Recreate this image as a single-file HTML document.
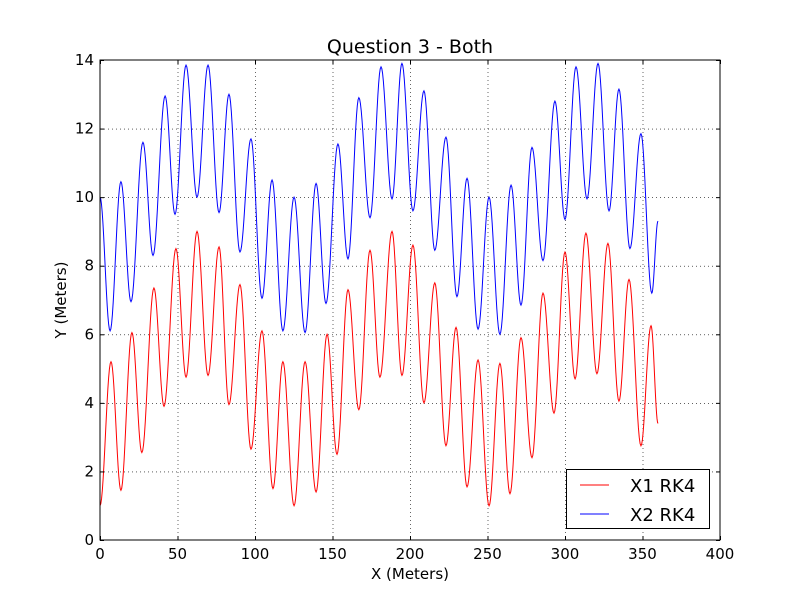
<!DOCTYPE html>
<html><head><meta charset="utf-8"><style>
html,body{margin:0;padding:0;background:#fff;}
svg text{font-family:"DejaVu Sans","Liberation Sans",sans-serif;}
</style></head><body>
<svg id="chart" width="800" height="600" viewBox="0 0 800 600" xmlns="http://www.w3.org/2000/svg">
<rect x="0" y="0" width="800" height="600" fill="#fff"/>
<g id="grid"></g>
<g id="series"></g>
<rect x="100" y="60" width="620" height="480" fill="none" stroke="#000" stroke-width="1"/>
<g id="ticks"></g>
<text x="410" y="53" font-size="19" text-anchor="middle">Question 3 - Both</text>
<text x="410" y="579" font-size="15" text-anchor="middle">X (Meters)</text>
<text x="66" y="300" font-size="15" text-anchor="middle" transform="rotate(-90 66 300)">Y (Meters)</text>
<g>
<rect x="566.5" y="469.5" width="143" height="59" fill="#fff" stroke="#000" stroke-width="1"/>
<line x1="580" y1="485" x2="609" y2="485" stroke="#ff0000" stroke-width="1"/>
<text x="630" y="492" font-size="18">X1 RK4</text>
<line x1="580" y1="514" x2="609" y2="514" stroke="#0000ff" stroke-width="1"/>
<text x="630" y="521" font-size="18">X2 RK4</text>
</g>
</svg>
<script>
const xTicks = [0,50,100,150,200,250,300,350,400];
const yTicks = [0,2,4,6,8,10,12,14];
const x1X = [0,7.1,13.5,20.6,27,34.8,41.3,49,55.5,62.6,69.7,76.8,83.2,90.3,97.4,104.5,111.6,118,125.2,132.3,139.4,146.5,152.9,160,167,174.2,180.6,188.4,194.8,201.9,209,216,223.2,229.7,236.8,243.9,251,258,264.5,271.6,278.7,285.8,292.9,300,306.5,313.5,320.6,327.7,334.8,341.3,349,355.5,360];
const x1Y = [1.0,5.2,1.45,6.05,2.55,7.35,3.9,8.5,4.75,9.0,4.8,8.55,3.95,7.45,2.65,6.1,1.5,5.2,1.0,5.2,1.4,6.0,2.5,7.3,3.8,8.45,4.75,9.0,4.8,8.6,4.0,7.5,2.75,6.2,1.55,5.25,1.0,5.15,1.35,5.9,2.4,7.2,3.7,8.4,4.7,8.95,4.85,8.65,4.05,7.6,2.75,6.25,3.4];
const x2X = [0,6.5,13.5,20,27.7,34.2,42,48.4,55.5,62.6,69.7,76.8,83.2,90.3,97.4,104.5,111,118,125.2,132.3,139.4,145.8,153.5,160,167,174.2,181.3,188.4,194.8,201.9,209,216,223.2,230.3,236.8,243.9,251,258,265.2,271.6,278.7,285.8,293.5,300,307.1,314.2,321.3,328.4,334.8,341.9,349,356,360];
const x2Y = [10.0,6.1,10.45,6.95,11.6,8.3,12.95,9.5,13.85,10.0,13.85,9.55,13.0,8.4,11.7,7.05,10.5,6.1,10.0,6.05,10.4,6.9,11.55,8.2,12.9,9.4,13.8,9.95,13.9,9.6,13.1,8.45,11.75,7.1,10.55,6.15,10.0,6.0,10.35,6.85,11.45,8.15,12.8,9.35,13.8,9.95,13.9,9.6,13.15,8.5,11.85,7.2,9.3];

const NS='http://www.w3.org/2000/svg';
const L=100,R=720,T=60,B=540;
function sx(v){return L+(v-0)/(400-0)*(R-L);}
function sy(v){return B-(v-0)/(14-0)*(B-T);}
function mk(tag,attrs,parent){const e=document.createElementNS(NS,tag);for(const k in attrs)e.setAttribute(k,attrs[k]);parent.appendChild(e);return e;}
const grid=document.getElementById('grid'),ticks=document.getElementById('ticks'),series=document.getElementById('series');
xTicks.forEach(v=>{
  const x=sx(v)+0.5;
  if(v>0&&v<400){const g=mk('line',{x1:x,y1:T,x2:x,y2:B,stroke:'#000','stroke-width':0.6,'stroke-dasharray':'1,3'},grid);
  
  }
  const t1=mk('line',{x1:x,y1:B,x2:x,y2:B-4,stroke:'#000'},ticks);
  
  
  const t2=mk('line',{x1:x,y1:T,x2:x,y2:T+4,stroke:'#000'},ticks);
  
  
  const tx=mk('text',{x:sx(v),y:B+19,'font-size':15,'text-anchor':'middle'},ticks);tx.textContent=v;
  
  
});
yTicks.forEach(v=>{
  const y=sy(v)+0.5;
  if(v>0&&v<14){const g=mk('line',{x1:L,y1:y,x2:R,y2:y,stroke:'#000','stroke-width':0.6,'stroke-dasharray':'1,3'},grid);
  
  }
  const t1=mk('line',{x1:L,y1:y,x2:L+4,y2:y,stroke:'#000'},ticks);
  
  
  const t2=mk('line',{x1:R,y1:y,x2:R-4,y2:y,stroke:'#000'},ticks);
  
  
  const tx=mk('text',{x:L-6,y:sy(v)+5,'font-size':15,'text-anchor':'end'},ticks);tx.textContent=v;
  
  
});
function pathFor(xs,ys){
  let d='M'+sx(xs[0]).toFixed(2)+','+sy(ys[0]).toFixed(2);
  for(let i=0;i<xs.length-1;i++){
    const x0=sx(xs[i]),y0=sy(ys[i]),x1=sx(xs[i+1]),y1=sy(ys[i+1]);
    const n=14;
    for(let k=1;k<=n;k++){const t=k/n;const s=(1-Math.cos(Math.PI*t))/2;
      d+=' L'+(x0+(x1-x0)*t).toFixed(2)+','+(y0+(y1-y0)*s).toFixed(2);}
  }
  return d;
}
const p1=mk('path',{d:pathFor(x1X,x1Y),fill:'none',stroke:'#ff0000','stroke-width':1},series);


const p2=mk('path',{d:pathFor(x2X,x2Y),fill:'none',stroke:'#0000ff','stroke-width':1},series);


</script>
</body></html>
